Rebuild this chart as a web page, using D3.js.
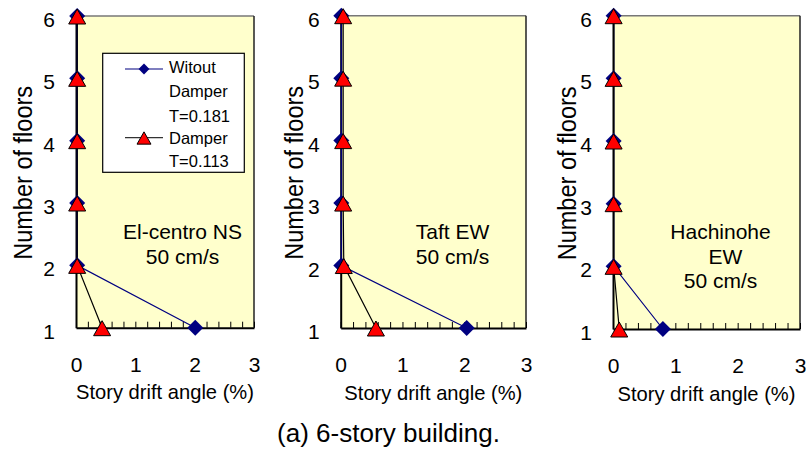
<!DOCTYPE html>
<html>
<head>
<meta charset="utf-8">
<script src="https://cdn.jsdelivr.net/npm/d3@7"></script>
<style>
  html, body { margin: 0; padding: 0; background: #fff; }
  svg { display: block; }
  text { font-family: "Liberation Sans", Arial, Helvetica, sans-serif; fill: #000; }
</style>
</head>
<body>
<svg id="chart" width="806" height="450"></svg>
<script>
// Floors (y categories) and drift-angle tick labels
const floors = [1, 2, 3, 4, 5, 6];
const driftTicks = [0, 1, 2, 3];

// Maximum story drift angle (%) per floor, 1F .. 6F
const elCentroWithout = [2.01, 0.02, 0.02, 0.02, 0.02, 0.02];
const elCentroDamper  = [0.44, 0.02, 0.02, 0.02, 0.02, 0.02];
const taftWithout     = [2.04, 0.01, 0.01, 0.01, 0.01, 0.01];
const taftDamper      = [0.57, 0.05, 0.04, 0.04, 0.04, 0.04];
const hachinoheWithout = [0.80, 0.01, 0.01, 0.01, 0.01, 0.01];
const hachinoheDamper  = [0.10, 0.01, 0.01, 0.01, 0.01, 0.01];

// Series names
const seriesWithout = ["Witout", "Damper", "T=0.181"];
const seriesDamper  = ["Damper", "T=0.113"];

// Ground motion labels
const elCentroLabel  = ["El-centro NS", "50 cm/s"];
const taftLabel      = ["Taft EW", "50 cm/s"];
const hachinoheLabel = ["Hachinohe", "EW", "50 cm/s"];

const yTitle = "Number of floors";
const xTitle = "Story drift angle (%)";
const caption = "(a) 6-story building.";

const NAVY = "#000080";
const svg = d3.select("#chart");

const panels = [
  { L: 76,    R: 254, T: 16,   B: 327.7, yTitleX: 31.7,  without: elCentroWithout,  damper: elCentroDamper,  label: elCentroLabel,  labelX: 182.5, labelDx: [0, 0] },
  { L: 340.7, R: 526, T: 15.7, B: 328,   yTitleX: 303.3, without: taftWithout,      damper: taftDamper,      label: taftLabel,      labelX: 452.5, labelDx: [0, 0] },
  { L: 613,   R: 800, T: 15.7, B: 329,   yTitleX: 576.3, without: hachinoheWithout, damper: hachinoheDamper, label: hachinoheLabel, labelX: 720.5, labelDx: [0, 5, 0] }
];

const diamondPath = "M0,-8L8,0L0,8L-8,0Z";
const trianglePath = "M0,-7.5L8.5,7.5L-8.5,7.5Z";

panels.forEach((p, i) => {
  const x = d3.scaleLinear().domain([0, 3]).range([p.L, p.R]);
  const y = d3.scaleLinear().domain([1, 6]).range([p.B, p.T]);
  const g = svg.append("g");

  // plot area
  g.append("rect")
    .attr("x", p.L).attr("y", p.T)
    .attr("width", p.R - p.L).attr("height", p.B - p.T)
    .attr("fill", "#FFFFCC");
  g.append("line")
    .attr("x1", p.L).attr("x2", p.R).attr("y1", p.T).attr("y2", p.T)
    .attr("stroke", "#777").attr("stroke-width", 1.5);
  g.append("line")
    .attr("x1", p.R).attr("x2", p.R).attr("y1", p.T).attr("y2", p.B)
    .attr("stroke", "#222").attr("stroke-width", 1.5);

  // x axis: minor inward ticks every 0.2
  const xMinor = g.append("g")
    .attr("transform", `translate(0,${p.B})`)
    .call(d3.axisBottom(x).tickValues(d3.range(0, 16).map(k => k * 0.2))
      .tickSizeInner(-6).tickSizeOuter(0).tickFormat(""));
  xMinor.select(".domain").attr("stroke", "#000").attr("stroke-width", 2);
  xMinor.selectAll(".tick line").attr("stroke", "#000").attr("stroke-width", 1);

  // x axis labels
  const xLab = g.append("g")
    .attr("transform", `translate(0,${p.B})`)
    .call(d3.axisBottom(x).tickValues(driftTicks).tickSize(0).tickPadding(29).tickFormat(d3.format("d")));
  xLab.select(".domain").remove();
  xLab.selectAll("text").attr("font-size", 21).attr("font-family", null);

  // y axis
  const yAx = g.append("g")
    .attr("transform", `translate(${p.L},0)`)
    .call(d3.axisLeft(y).tickValues(floors).tickSize(0).tickPadding(21).tickFormat(d3.format("d")));
  yAx.select(".domain").attr("stroke", "#000").attr("stroke-width", 2);
  yAx.selectAll("text").attr("font-size", 21).attr("dy", "0.5em").attr("font-family", null);

  // titles
  g.append("text")
    .attr("transform", `translate(${p.yTitleX},${(p.T + p.B) / 2 + 1}) rotate(-90)`)
    .attr("text-anchor", "middle")
    .attr("font-size", 25)
    .attr("textLength", 174).attr("lengthAdjust", "spacingAndGlyphs")
    .text(yTitle);
  g.append("text")
    .attr("x", (p.L + p.R) / 2).attr("y", p.B + 71.5)
    .attr("text-anchor", "middle")
    .attr("font-size", 21)
    .attr("textLength", 178).attr("lengthAdjust", "spacingAndGlyphs")
    .text(xTitle);

  // ground motion annotation
  p.label.forEach((t, k) => {
    g.append("text")
      .attr("x", p.labelX + p.labelDx[k]).attr("y", 239 + k * 24.5)
      .attr("text-anchor", "middle")
      .attr("font-size", 21)
      .text(t);
  });

  const line = d3.line().x(d => x(d.v)).y(d => y(d.f));
  const wData = floors.map((f, k) => ({ f, v: p.without[k] }));
  const dData = floors.map((f, k) => ({ f, v: p.damper[k] }));

  g.append("path").datum(wData).attr("d", line)
    .attr("fill", "none").attr("stroke", NAVY).attr("stroke-width", 1.2);
  g.append("path").datum(dData).attr("d", line)
    .attr("fill", "none").attr("stroke", "#000").attr("stroke-width", 1.2);

  g.selectAll(".dia").data(wData).enter().append("path")
    .attr("transform", d => `translate(${x(d.v)},${y(d.f)})`)
    .attr("d", diamondPath).attr("fill", NAVY);
  g.selectAll(".tri").data(dData).enter().append("path")
    .attr("transform", d => `translate(${x(d.v)},${y(d.f) + 0.5})`)
    .attr("d", trianglePath).attr("fill", "#FF0000")
    .attr("stroke", "#000").attr("stroke-width", 1);

  // legend in the first panel
  if (i === 0) {
    const lg = svg.append("g");
    lg.append("rect")
      .attr("x", 102.7).attr("y", 53.3).attr("width", 141.6).attr("height", 119)
      .attr("fill", "#fff").attr("stroke", "#000").attr("stroke-width", 1.2);
    lg.append("line").attr("x1", 125).attr("x2", 163).attr("y1", 69).attr("y2", 69)
      .attr("stroke", NAVY).attr("stroke-width", 1.2);
    lg.append("path").attr("transform", "translate(144,69) scale(0.68)")
      .attr("d", diamondPath).attr("fill", NAVY);
    lg.append("line").attr("x1", 125).attr("x2", 163).attr("y1", 137.7).attr("y2", 137.7)
      .attr("stroke", "#333").attr("stroke-width", 1.2);
    lg.append("path").attr("transform", "translate(144,138) scale(0.82)")
      .attr("d", trianglePath).attr("fill", "#FF0000").attr("stroke", "#000").attr("stroke-width", 1.2);
    seriesWithout.forEach((t, k) => {
      lg.append("text").attr("x", 169).attr("y", 73 + k * 24.3)
        .attr("font-size", 16.5).text(t);
    });
    seriesDamper.forEach((t, k) => {
      lg.append("text").attr("x", 169).attr("y", 144 + k * 22.7)
        .attr("font-size", 16.5).text(t);
    });
  }
});

svg.append("text")
  .attr("x", 277).attr("y", 442)
  .attr("font-size", 25.5)
  .attr("textLength", 223).attr("lengthAdjust", "spacingAndGlyphs")
  .text(caption);
</script>
</body>
</html>
